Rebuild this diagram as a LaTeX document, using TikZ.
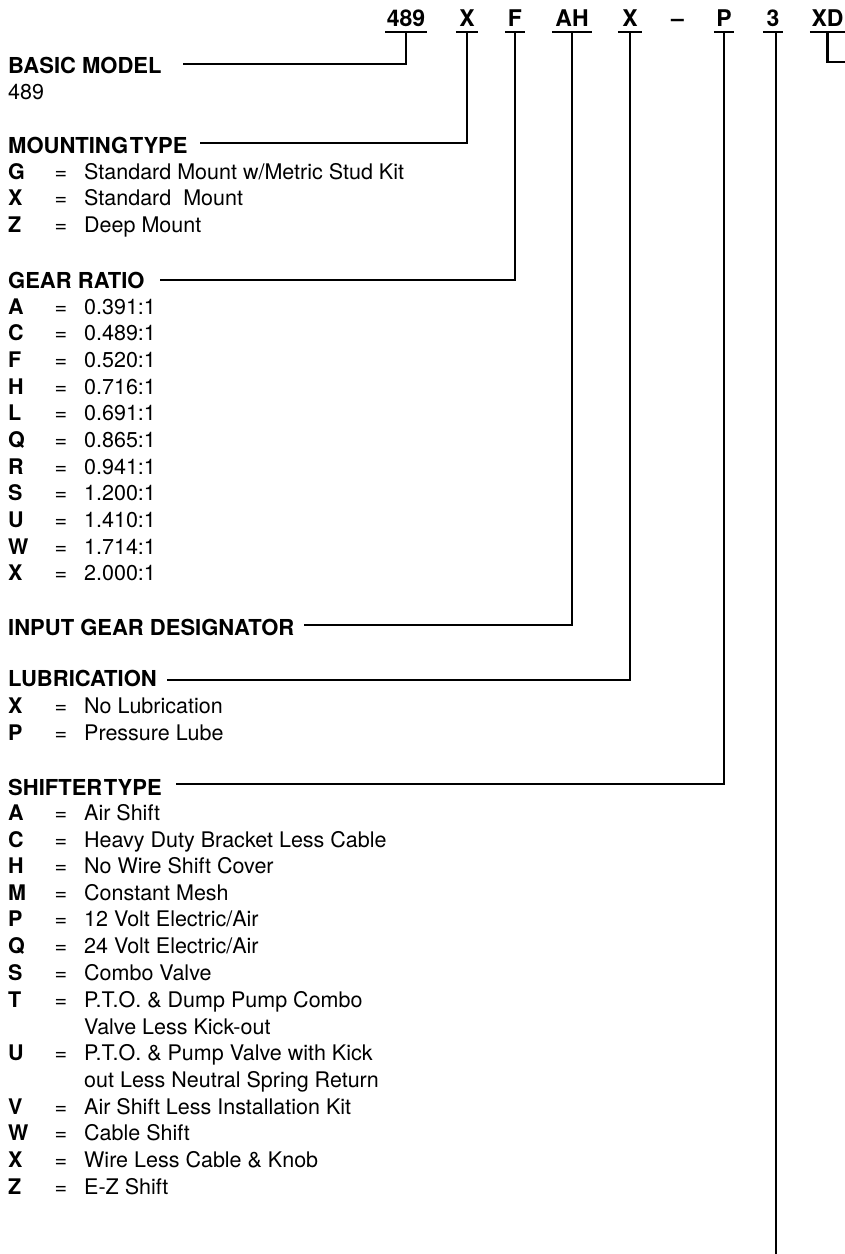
\documentclass[tikz,border=0pt]{standalone}
\usepackage{fontspec}
\setmainfont{TeX Gyre Heros}
\newcommand\orow[4]{%
  \node[key] (#1k) at (8,-#2-7.7) {#3};
  \node[eqs] (#1e) at (61,-#2-7.7) {=};
  \node[body] (#1d) at (84,-#2-7.7) {#4};}
\newcommand\crow[3]{%
  \node[body] (#1) at (84,-#2-7.7) {#3};}
\tikzset{
  ln/.style={line width=2.4pt, line cap=butt, line join=miter},
  head/.style={anchor=base west, inner sep=0pt, font=\fontsize{22}{26}\selectfont\bfseries},
  body/.style={anchor=base west, inner sep=0pt, font=\fontsize{21.5}{26}\selectfont},
  key/.style={anchor=base west, inner sep=0pt, font=\fontsize{21.5}{26}\selectfont\bfseries},
  eqs/.style={anchor=base, inner sep=0pt, font=\fontsize{21.5}{26}\selectfont},
  code/.style={anchor=south, inner xsep=0pt, inner ysep=5pt, text depth=0pt,
    font=\fontsize{23}{26}\selectfont\bfseries},
}
\begin{document}
\begin{tikzpicture}[x=1pt,y=1pt]
\useasboundingbox[fill=white] (0,0) rectangle (845,-1254);

% ---- model code ----
\node[code, minimum width=41pt] (c489) at (406,-32) {489};
\node[code, minimum width=22pt] (cX1) at (467,-32) {X};
\node[code, minimum width=20pt] (cF) at (515,-32) {F};
\node[code, minimum width=40pt] (cAH) at (572,-32) {AH};
\node[code, minimum width=24pt] (cX2) at (630,-32) {X};
\node[code] (cdash) at (677.5,-32) {–};
\node[code, minimum width=20pt] (cP) at (724,-32) {P};
\node[code, minimum width=20pt] (c3) at (773,-32) {3};
\node[code, minimum width=35pt] (cXD) at (827.5,-32) {XD};
\foreach \n in {c489,cX1,cF,cAH,cX2,cP,c3,cXD}
  \draw[ln] (\n.south west) -- (\n.south east);

% ---- headings ----
\node[head] (basic) at (8,-65-8) {BASIC MODEL};
\node[body] (basicv) at (8,-92-7.7) {489};
\node[head] (mount) at (8,-145-8) {MOUNTING\hspace{-4.5pt} TYPE};
\node[head] (gear) at (8,-280-8) {GEAR RATIO};
\node[head] (input) at (8,-627-8) {INPUT GEAR DESIGNATOR};
\node[head] (lub) at (8,-678-8) {LUBRICATION};
\node[head] (shift) at (8,-787-8) {SHIFTER\hspace{-4.5pt} TYPE};

% ---- mounting ----
\orow{mG}{172}{G}{Standard Mount w/Metric Stud Kit}
\orow{mX}{198}{X}{Standard\ \ Mount}
\orow{mZ}{225}{Z}{Deep Mount}

% ---- gear ratio ----
\orow{gA}{307}{A}{0.391:1}
\orow{gC}{333}{C}{0.489:1}
\orow{gF}{360}{F}{0.520:1}
\orow{gH}{387}{H}{0.716:1}
\orow{gL}{413}{L}{0.691:1}
\orow{gQ}{440}{Q}{0.865:1}
\orow{gR}{467}{R}{0.941:1}
\orow{gS}{493}{S}{1.200:1}
\orow{gU}{520}{U}{1.410:1}
\orow{gW}{547}{W}{1.714:1}
\orow{gX}{573}{X}{2.000:1}

% ---- lubrication ----
\orow{lX}{706}{X}{No Lubrication}
\orow{lP}{733}{P}{Pressure Lube}

% ---- shifter ----
\orow{sA}{813}{A}{Air Shift}
\orow{sC}{840}{C}{Heavy Duty Bracket Less Cable}
\orow{sH}{866}{H}{No Wire Shift Cover}
\orow{sM}{893}{M}{Constant Mesh}
\orow{sP}{919}{P}{12 Volt Electric/Air}
\orow{sQ}{946}{Q}{24 Volt Electric/Air}
\orow{sS}{973}{S}{Combo Valve}
\orow{sT}{1000}{T}{P.T.O. \& Dump Pump Combo}
\crow{sT2}{1027}{Valve Less Kick-out}
\orow{sU}{1053}{U}{P.T.O. \& Pump Valve with Kick}
\crow{sU2}{1080}{out Less Neutral Spring Return}
\orow{sV}{1107}{V}{Air Shift Less Installation Kit}
\orow{sW}{1133}{W}{Cable Shift}
\orow{sX}{1160}{X}{Wire Less Cable \& Knob}
\orow{sZ}{1187}{Z}{E-Z Shift}

% ---- connector ends ----
\coordinate (basicL) at (183,-64);
\coordinate (mountL) at (200,-143);
\coordinate (gearL) at (160,-280);
\coordinate (inputL) at (304,-625);
\coordinate (lubL) at (167,-680);
\coordinate (shiftL) at (176,-784);
\coordinate (threeEnd) at (776,-1254);
\coordinate (xdR) at (845,-62);

\draw[ln] (c489.south) |- (basicL);
\draw[ln] (cX1.south) |- (mountL);
\draw[ln] (cF.south) |- (gearL);
\draw[ln] (cAH.south) |- (inputL);
\draw[ln] (cX2.south) |- (lubL);
\draw[ln] (cP.south) |- (shiftL);
\draw[ln] ([xshift=3pt]c3.south) -- (threeEnd);
\draw[ln] (cXD.south) |- (xdR);
\end{tikzpicture}
\end{document}
